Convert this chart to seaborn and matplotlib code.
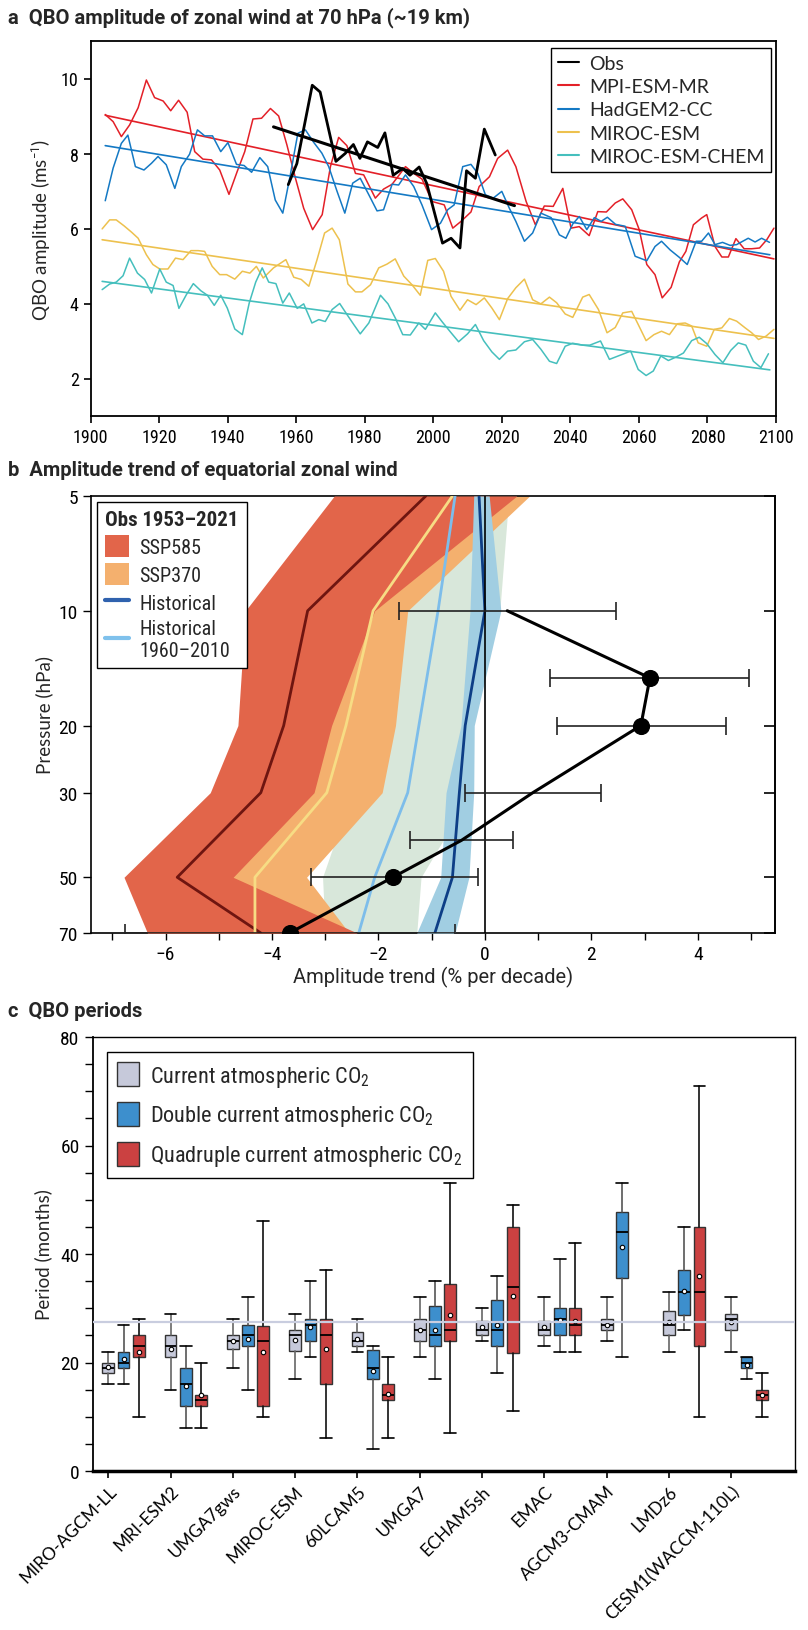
import numpy as np
import matplotlib
matplotlib.use("Agg")
import matplotlib.pyplot as plt
from matplotlib import font_manager as fm
import seaborn as sns
from matplotlib.patches import Patch
from matplotlib.lines import Line2D
from matplotlib.ticker import FixedLocator, MultipleLocator, NullLocator, FuncFormatter

# ======================= DATA =======================
# ---- panel a : QBO amplitude at 70 hPa ----
obs_years = [1957.7, 1960.2, 1964.7, 1967.0, 1971.6, 1974.3, 1976.7, 1978.6, 1980.8, 1983.8,
             1985.9, 1988.3, 1991.1, 1993.2, 1995.9, 1998.1, 2002.7, 2005.2, 2007.8, 2009.7,
             2012.3, 2014.9, 2018.1]
obs_vals = [7.17, 7.73, 9.82, 9.64, 7.79, 8.00, 8.24, 7.87, 8.31, 8.16,
            8.55, 7.42, 7.60, 7.42, 7.64, 7.20, 5.61, 5.74, 5.48, 7.54,
            7.34, 8.65, 7.96]
obs_trend_years = [1953.4, 2023.7]
obs_trend_vals = [8.71, 6.61]

mpi_years = [1904.3, 1906.6, 1909.0, 1911.4, 1913.9, 1916.3, 1918.7, 1921.2, 1923.4, 1925.7,
             1928.2, 1930.4, 1932.8, 1935.3, 1937.7, 1940.4, 1942.8, 1945.0, 1947.4, 1949.9,
             1952.5, 1954.9, 1957.3, 1959.8, 1962.2, 1964.8, 1967.6, 1970.0, 1972.4, 1974.8,
             1977.3, 1979.7, 1983.1, 1985.5, 1988.0, 1991.9, 1994.3, 1996.7, 1999.7, 2003.2,
             2005.7, 2008.1, 2011.0, 2013.4, 2016.4, 2018.8, 2021.7, 2024.1, 2027.1, 2029.8,
             2032.4, 2035.0, 2037.8, 2040.2, 2042.6, 2045.5, 2048.0, 2050.5, 2053.1, 2055.3,
             2057.9, 2060.1, 2062.3, 2064.7, 2066.8, 2069.4, 2071.8, 2073.7, 2075.9, 2078.3,
             2079.8, 2082.2, 2084.2, 2086.1, 2088.3, 2090.7, 2092.9, 2095.2, 2097.3, 2099.4]
mpi_vals = [9.04, 8.85, 8.45, 8.76, 9.22, 9.96, 9.49, 9.40, 9.14, 9.42,
            9.10, 8.05, 7.85, 7.83, 7.56, 6.91, 7.52, 8.05, 8.92, 8.94,
            9.20, 9.00, 8.23, 7.34, 6.54, 5.97, 6.37, 7.65, 8.43, 8.21,
            7.47, 7.43, 6.81, 7.05, 7.18, 7.65, 7.47, 7.32, 6.72, 6.63,
            6.01, 6.19, 6.44, 7.12, 7.38, 7.87, 8.09, 7.65, 6.72, 6.10,
            6.60, 6.59, 7.07, 6.01, 6.05, 5.81, 6.45, 6.44, 6.68, 6.79,
            6.50, 5.97, 5.04, 4.77, 4.15, 4.43, 5.11, 5.39, 6.10, 6.28,
            6.37, 5.52, 5.24, 5.24, 5.73, 5.46, 5.46, 5.48, 5.70, 6.01]
mpi_trend_years = [1904.3, 2099.4]
mpi_trend_vals = [9.02, 5.19]

had_years = [1904.3, 1906.6, 1909.0, 1910.9, 1913.1, 1915.6, 1917.8, 1919.7, 1922.1, 1924.6,
             1926.5, 1928.9, 1931.2, 1933.3, 1935.6, 1938.0, 1940.1, 1942.6, 1944.8, 1947.0,
             1949.4, 1951.7, 1953.9, 1956.1, 1958.3, 1960.5, 1962.7, 1965.1, 1967.5, 1969.5,
             1971.9, 1974.2, 1976.5, 1978.7, 1981.2, 1983.6, 1985.5, 1988.0, 1989.9, 1991.9,
             1994.3, 1996.7, 1999.5, 2002.1, 2004.2, 2006.1, 2008.6, 2011.0, 2013.0, 2015.2,
             2017.5, 2020.0, 2022.2, 2024.1, 2026.6, 2029.0, 2031.4, 2034.4, 2036.8, 2038.7,
             2040.7, 2042.6, 2044.8, 2047.0, 2049.0, 2050.8, 2053.2, 2056.0, 2058.9, 2062.3,
             2064.7, 2066.6, 2069.1, 2071.8, 2074.1, 2076.7, 2078.3, 2080.3, 2082.2, 2084.4,
             2086.6, 2088.5, 2091.9, 2093.9, 2095.8, 2098.1]
had_vals = [6.74, 7.61, 8.27, 8.49, 7.65, 7.56, 7.74, 7.92, 7.70, 7.07,
            7.65, 7.98, 8.63, 8.47, 8.47, 8.05, 8.29, 7.71, 7.68, 7.50,
            7.89, 7.65, 6.76, 6.41, 7.43, 8.54, 8.63, 8.30, 8.01, 7.65,
            7.00, 6.41, 7.21, 7.34, 6.90, 6.47, 6.50, 7.18, 7.16, 7.43,
            7.12, 6.63, 5.97, 6.14, 6.50, 6.63, 7.65, 7.71, 7.47, 6.90,
            6.81, 6.99, 6.54, 6.19, 5.66, 5.88, 6.41, 6.29, 5.83, 5.74,
            6.12, 6.32, 5.97, 6.29, 6.19, 6.30, 6.11, 6.06, 5.26, 5.14,
            5.52, 5.66, 5.43, 5.23, 5.04, 5.66, 5.66, 5.88, 5.57, 5.63,
            5.55, 5.57, 5.74, 5.64, 5.74, 5.63]
had_trend_years = [1904.3, 2098.2]
had_trend_vals = [8.21, 5.30]

mir_years = [1903.4, 1905.6, 1907.5, 1909.8, 1912.0, 1913.9, 1916.3, 1918.2, 1920.2, 1922.6,
             1924.8, 1927.0, 1929.3, 1931.4, 1933.3, 1935.5, 1937.7, 1939.7, 1942.1, 1944.3,
             1946.5, 1948.4, 1950.4, 1953.4, 1957.0, 1959.3, 1961.5, 1963.7, 1966.1, 1968.3,
             1970.5, 1972.6, 1975.1, 1977.3, 1979.2, 1981.7, 1984.1, 1986.5, 1988.9, 1991.4,
             1993.8, 1996.2, 1998.4, 2000.6, 2003.0, 2005.2, 2007.8, 2010.0, 2012.5, 2014.9,
             2017.1, 2019.3, 2021.7, 2024.1, 2026.6, 2029.0, 2031.4, 2033.9, 2036.0, 2038.5,
             2040.7, 2043.6, 2045.5, 2048.2, 2050.7, 2053.1, 2055.3, 2057.9, 2059.8, 2062.1,
             2064.4, 2066.6, 2068.9, 2071.2, 2073.5, 2075.4, 2077.3, 2079.8, 2082.0, 2084.2,
             2086.4, 2088.5, 2091.0, 2092.9, 2094.9, 2097.1, 2099.4]
mir_vals = [5.99, 6.23, 6.23, 6.07, 5.90, 5.74, 5.30, 5.04, 4.92, 4.92,
            5.21, 5.17, 5.41, 5.41, 5.39, 4.99, 4.77, 4.77, 4.65, 4.86,
            4.81, 4.99, 4.68, 4.95, 5.17, 4.70, 4.64, 4.46, 5.17, 5.88,
            6.01, 5.70, 4.52, 4.31, 4.31, 4.50, 4.95, 5.05, 5.19, 4.73,
            4.50, 4.22, 5.15, 5.20, 4.86, 4.19, 3.82, 4.10, 3.97, 4.15,
            3.88, 3.57, 4.13, 4.42, 4.65, 4.10, 3.99, 4.17, 4.02, 3.72,
            3.63, 4.17, 4.24, 3.84, 3.22, 3.36, 3.75, 3.79, 3.44, 3.01,
            3.17, 3.26, 3.17, 3.46, 3.48, 3.40, 2.95, 2.86, 3.31, 3.35,
            3.60, 3.53, 3.35, 3.22, 3.04, 3.13, 3.31]
mir_trend_years = [1903.4, 2099.4]
mir_trend_vals = [5.70, 3.07]

chem_years = [1903.4, 1905.6, 1907.5, 1909.5, 1911.4, 1913.7, 1915.8, 1917.8, 1920.2, 1922.1,
              1924.1, 1925.8, 1928.0, 1930.0, 1932.2, 1934.1, 1936.1, 1938.0, 1939.9, 1942.1,
              1944.3, 1946.3, 1948.2, 1950.1, 1952.0, 1954.1, 1956.1, 1958.0, 1960.3, 1962.2,
              1964.6, 1966.6, 1968.5, 1970.5, 1972.7, 1974.8, 1976.8, 1978.7, 1981.2, 1984.6,
              1986.8, 1989.0, 1991.1, 1993.3, 1995.8, 1997.7, 2000.6, 2002.7, 2005.2, 2007.4,
              2010.0, 2012.3, 2014.7, 2017.1, 2019.3, 2021.7, 2024.1, 2026.6, 2029.0, 2031.4,
              2033.9, 2036.0, 2038.5, 2040.7, 2043.6, 2045.7, 2048.8, 2051.4, 2054.5, 2057.6,
              2059.8, 2062.1, 2064.2, 2066.4, 2068.6, 2070.8, 2073.0, 2075.4, 2077.6, 2079.8,
              2082.2, 2084.5, 2086.8, 2089.0, 2091.2, 2093.4, 2095.6, 2097.8]
chem_vals = [4.37, 4.52, 4.57, 4.74, 5.21, 4.81, 4.64, 4.28, 4.92, 4.57,
             4.48, 3.87, 4.24, 4.53, 4.34, 4.22, 3.95, 4.22, 3.88, 3.32,
             3.17, 4.01, 4.57, 4.95, 4.57, 4.53, 4.01, 4.28, 3.87, 3.99,
             3.48, 3.57, 3.52, 3.84, 4.00, 3.71, 3.44, 3.19, 3.48, 4.22,
             3.99, 3.60, 3.17, 3.16, 3.48, 3.31, 3.75, 3.50, 3.22, 2.98,
             3.19, 3.44, 3.01, 2.71, 2.51, 2.73, 2.76, 2.98, 3.04, 2.78,
             2.46, 2.40, 2.86, 2.94, 2.89, 2.89, 3.00, 2.51, 2.62, 2.73,
             2.24, 2.08, 2.20, 2.60, 2.48, 2.57, 2.68, 3.01, 3.10, 2.93,
             2.64, 2.42, 2.75, 2.95, 2.89, 2.46, 2.29, 2.66]
chem_trend_years = [1903.4, 2098.2]
chem_trend_vals = [4.59, 2.23]

# ---- panel b : amplitude trend profiles ----
p_levels = [5, 10, 20, 30, 50, 70]
ssp585_lo = [-2.83, -4.50, -4.64, -5.16, -6.78, -6.34]
ssp585_hi = [0.60, -2.07, -2.88, -3.21, -4.73, -2.40]
ssp585_mean = [-1.11, -3.33, -3.78, -4.21, -5.78, -4.21]
ssp370_lo = [-1.50, -3.00, -3.60, -4.00, -4.80, -4.60]
ssp370_hi = [0.84, -1.45, -1.68, -1.93, -3.35, -2.55]
ssp370_mean = [-0.61, -2.10, -2.61, -2.97, -4.32, -4.32]
h6010_lo = [-1.00, -1.45, -2.00, -2.50, -3.05, -3.00]
h6010_hi = [0.45, 0.28, -0.25, -0.25, -1.20, -1.28]
h6010_mean = [-0.56, -0.88, -1.24, -1.45, -2.07, -2.37]
hist_lo = [-0.21, -0.28, -0.45, -0.73, -0.83, -1.28]
hist_hi = [0.08, 0.30, -0.20, -0.21, -0.30, -0.56]
hist_mean = [-0.11, 0.00, -0.37, -0.48, -0.61, -0.94]

obs_p = [10, 15, 20, 30, 40, 50, 70]
obs_trend = [0.42, 3.10, 2.93, 0.90, -0.44, -1.73, -3.67]
obs_err_lo = [-1.62, 1.22, 1.36, -0.38, -1.40, -3.26, -6.77]
obs_err_hi = [2.46, 4.96, 4.53, 2.19, 0.52, -0.13, -0.56]
obs_marker = [False, True, True, False, False, True, True]

# ---- panel c : QBO periods ----
models = ["MIRO-AGCM-LL", "MRI-ESM2", "UMGA7gws", "MIROC-ESM", "60LCAM5", "UMGA7",
          "ECHAM5sh", "EMAC", "AGCM3-CMAM", "LMDz6", "CESM1(WACCM-110L)"]
cur_lo = [16, 15, 19, 17, 22, 21, 24, 23, 24, 22, 22]
cur_q1 = [18, 21, 22.4, 22.2, 23, 24, 25, 25, 26, 25, 26]
cur_med = [19, 23, 24, 25, 24, 26, 26, 26, 27, 27, 28]
cur_q3 = [20, 25, 25, 26, 25.7, 28, 27.7, 27.7, 28, 29.5, 29]
cur_hi = [22, 29, 28, 29, 28, 32, 30, 32, 32, 33, 32]
cur_mean = [19.2, 22.4, 24.0, 24.2, 24.3, 26.0, 26.5, 26.5, 27.0, 27.4, 27.5]

dbl_lo = [16, 8, 15, 21, 4, 17, 18, 22, 21, 26, 17]
dbl_q1 = [19, 12, 23, 24, 17, 23, 23, 25, 35.5, 28.8, 19]
dbl_med = [20, 16, 25, 27, 19, 25, 26, 28, 44, 33, 20]
dbl_q3 = [22, 19, 27, 28, 22.3, 30.5, 31.5, 30, 47.8, 37, 21]
dbl_hi = [27, 23, 32, 35, 23, 35, 36, 39, 53, 45, 21]
dbl_mean = [20.7, 15.7, 24.3, 26.6, 18.5, 26.0, 27.0, 27.8, 41.2, 33.2, 19.6]

quad_lo = [10, 8, 10, 6, 6, 7, 11, 22, None, 10, 10]
quad_q1 = [21, 12, 12, 16, 13, 24, 21.7, 25, None, 23, 13]
quad_med = [23, 13, 24, 25, 14, 26, 34, 27, None, 33, 14]
quad_q3 = [25, 14, 26.7, 28, 16, 34.5, 45, 30, None, 45, 15]
quad_hi = [28, 20, 46, 37, 21, 53, 49, 42, None, 71, 18]
quad_mean = [22.0, 14.0, 22.0, 22.5, 14.2, 28.7, 32.3, 27.7, None, 35.9, 14.0]

ref_period = 27.4

# ======================= STYLE =======================
sns.set_theme(style="ticks")
_names = {f.name for f in fm.fontManager.ttflist}
COND = [n for n in ['Liberation Sans Narrow', 'Roboto Condensed', 'Open Sans Condensed',
                    'Roboto'] if n in _names] + ['DejaVu Sans']
REG = [n for n in ['Lato'] if n in _names] + ['DejaVu Sans']
TIT = [n for n in ['Roboto'] if n in _names] + ['DejaVu Sans']
plt.rcParams['font.family'] = COND
plt.rcParams['axes.unicode_minus'] = True
plt.rcParams['axes.edgecolor'] = 'black'
plt.rcParams['xtick.color'] = 'black'
plt.rcParams['ytick.color'] = 'black'
plt.rcParams['mathtext.fontset'] = 'custom'
plt.rcParams['mathtext.rm'] = COND[0]
plt.rcParams['mathtext.it'] = COND[0]

fig = plt.figure(figsize=(8.08, 16.31), dpi=100)
H = 1631.0
W = 808.0

def title(ypix, txt):
    fig.text(8 / W, 1 - ypix / H, txt, fontsize=14.5, fontweight='bold', va='center',
             ha='left', family=TIT)

title(18, "a  QBO amplitude of zonal wind at 70 hPa (~19 km)")
title(471, "b  Amplitude trend of equatorial zonal wind")
title(1012, "c  QBO periods")

# ======================= PANEL A =======================
ax1 = fig.add_axes([90.5 / W, 1 - 417 / H, (776 - 90.5) / W, (417 - 42) / H])
c_mpi, c_had, c_mir, c_chem = '#E32028', '#1479C4', '#EDC14E', '#45BFBD'
series = [
    (mpi_years, mpi_vals, mpi_trend_years, mpi_trend_vals, c_mpi),
    (had_years, had_vals, had_trend_years, had_trend_vals, c_had),
    (mir_years, mir_vals, mir_trend_years, mir_trend_vals, c_mir),
    (chem_years, chem_vals, chem_trend_years, chem_trend_vals, c_chem),
]
for yrs, vals, tyrs, tvals, col in series:
    sns.lineplot(x=yrs, y=vals, color=col, lw=1.1, ax=ax1, sort=False, estimator=None,
                 legend=False)
    sns.lineplot(x=tyrs, y=tvals, color=col, lw=1.2, ax=ax1, sort=False, estimator=None,
                 legend=False)
sns.lineplot(x=obs_years, y=obs_vals, color='black', lw=2.0, ax=ax1, sort=False,
             estimator=None, legend=False, zorder=5)
sns.lineplot(x=obs_trend_years, y=obs_trend_vals, color='black', lw=2.2, ax=ax1,
             sort=False, estimator=None, legend=False, zorder=5)
ax1.set_xlim(1900, 2100)
ax1.set_ylim(1, 11)
ax1.xaxis.set_major_locator(MultipleLocator(20))
ax1.yaxis.set_major_locator(FixedLocator([2, 4, 6, 8, 10]))
ax1.tick_params(direction='out', length=5, width=1.2, labelsize=13)
ax1.set_xlabel("")
ax1.set_ylabel("QBO amplitude (ms$^{-1}$)", fontsize=13.5, family=REG, labelpad=6)
for s in ax1.spines.values():
    s.set_linewidth(1.3)
handles = [Line2D([], [], color='black', lw=1.5), Line2D([], [], color=c_mpi, lw=1.5),
           Line2D([], [], color=c_had, lw=1.5), Line2D([], [], color=c_mir, lw=1.5),
           Line2D([], [], color=c_chem, lw=1.5)]
labels = ["Obs", "MPI-ESM-MR", "HadGEM2-CC", "MIROC-ESM", "MIROC-ESM-CHEM"]
leg = ax1.legend(handles, labels, loc='upper right', bbox_to_anchor=(0.9927, 0.981),
                 borderaxespad=0, frameon=True, fancybox=False, edgecolor='black',
                 framealpha=1, handlelength=1.1, handletextpad=0.5, borderpad=0.35,
                 labelspacing=0.32, prop={'family': REG, 'size': 14})
leg.get_frame().set_linewidth(1.0)

# ======================= PANEL B =======================
ax2 = fig.add_axes([91 / W, 1 - 934 / H, (775 - 91) / W, (934 - 497) / H])
col585, col370 = '#E2654A', '#F4B06E'
col_g, col_b = '#D8E7DA', '#A1CEE2'
ax2.fill_betweenx(p_levels, h6010_lo, h6010_hi, color=col_g, lw=0, zorder=1)
ax2.fill_betweenx(p_levels, ssp370_lo, ssp370_hi, color=col370, lw=0, zorder=2)
ax2.fill_betweenx(p_levels, ssp585_lo, ssp585_hi, color=col585, lw=0, zorder=3)
ax2.fill_betweenx(p_levels, hist_lo, hist_hi, color=col_b, lw=0, zorder=4)
for xs, col in [(ssp585_mean, '#6E1510'), (ssp370_mean, '#F7DC84'),
                (h6010_mean, '#7DBDEA'), (hist_mean, '#0D3E86')]:
    sns.lineplot(x=xs, y=p_levels, color=col, lw=2.0, ax=ax2, sort=False, orient='y',
                 estimator=None, legend=False, zorder=5)
ax2.axvline(0, color='black', lw=1.2, zorder=6)
ax2.errorbar(obs_trend, obs_p,
             xerr=[np.array(obs_trend) - np.array(obs_err_lo),
                   np.array(obs_err_hi) - np.array(obs_trend)],
             fmt='none', ecolor='#222222', elinewidth=1.2, capsize=6.5, capthick=1.2, zorder=7)
sns.lineplot(x=obs_trend, y=obs_p, color='black', lw=2.2, ax=ax2, sort=False, orient='y',
             estimator=None, legend=False, zorder=8)
mk_x = [x for x, m in zip(obs_trend, obs_marker) if m]
mk_y = [y for y, m in zip(obs_p, obs_marker) if m]
sns.scatterplot(x=mk_x, y=mk_y, color='black', s=130, ax=ax2, zorder=9, legend=False,
                edgecolor='black')
ax2.set_yscale('log')
ax2.set_ylim(70, 5)
ax2.set_xlim(-7.4, 5.45)
ax2.yaxis.set_major_locator(FixedLocator(p_levels))
ax2.yaxis.set_major_formatter(FuncFormatter(lambda v, p: f"{int(round(v))}"))
ax2.yaxis.set_minor_locator(NullLocator())
ax2.xaxis.set_major_locator(MultipleLocator(1))
ax2.xaxis.set_major_formatter(FuncFormatter(
    lambda v, p: (f"{int(round(v))}".replace('-', '\u2212') if int(round(v)) % 2 == 0 else "")))
ax2.tick_params(axis='x', direction='out', length=5, width=1.0, labelsize=14)
ax2.tick_params(axis='y', direction='out', length=6, width=1.0, labelsize=14)
sec = ax2.secondary_yaxis('right')
sec.set_yticks(p_levels)
sec.yaxis.set_minor_locator(NullLocator())
sec.tick_params(axis='y', direction='in', length=8, width=1.2, labelright=False)
sec.spines['right'].set_linewidth(1.2)
ax2.set_xlabel("Amplitude trend (% per decade)", fontsize=14.5, family=TIT, labelpad=2)
ax2.set_ylabel("Pressure (hPa)", fontsize=13.5, family=REG, labelpad=4)
for s in ax2.spines.values():
    s.set_linewidth(1.2)
handles_b = [Patch(facecolor=col585, edgecolor='none'), Patch(facecolor=col370, edgecolor='none'),
             Line2D([], [], color='#2F62AE', lw=3), Line2D([], [], color='#7FC1EC', lw=3)]
labels_b = ["SSP585", "SSP370", "Historical", "Historical\n1960\u20132010"]
leg2 = ax2.legend(handles_b, labels_b, loc='upper left', bbox_to_anchor=(0.0088, 0.986),
                  borderaxespad=0, title="Obs 1953\u20132021", frameon=True, fancybox=False,
                  edgecolor='black', framealpha=1, handlelength=1.2, handleheight=1.3,
                  handletextpad=0.5, borderpad=0.4, labelspacing=0.3,
                  prop={'family': COND, 'size': 14.5},
                  title_fontproperties={'family': COND, 'size': 15, 'weight': 'bold'})
leg2._legend_box.align = "left"
leg2.get_frame().set_linewidth(1.0)
leg2.set_zorder(10)

# ======================= PANEL C =======================
ax3 = fig.add_axes([92.7 / W, 1 - 1472 / H, (794.8 - 92.7) / W, (1472 - 1038) / H])
groups = [
    (cur_lo, cur_q1, cur_med, cur_q3, cur_hi, cur_mean, '#C6C9DA', '#666666', 0.0),
    (dbl_lo, dbl_q1, dbl_med, dbl_q3, dbl_hi, dbl_mean, '#3D8FCD', '#555555', 0.245),
    (quad_lo, quad_q1, quad_med, quad_q3, quad_hi, quad_mean, '#CB4141', '#111111', 0.49),
]
bw = 0.19
for lo, q1, med, q3, hi, mn, fc, wc, off in groups:
    stats, pos = [], []
    for i in range(len(models)):
        if lo[i] is None:
            continue
        stats.append(dict(whislo=lo[i], q1=q1[i], med=med[i], q3=q3[i], whishi=hi[i],
                          mean=mn[i], fliers=[]))
        pos.append(i + off)
    ax3.bxp(stats, positions=pos, widths=bw, capwidths=bw, showmeans=True, patch_artist=True,
            showfliers=False,
            boxprops=dict(facecolor=fc, edgecolor='#333333', linewidth=1.0),
            medianprops=dict(color='black', linewidth=1.3),
            whiskerprops=dict(color=wc, linewidth=1.2),
            capprops=dict(color='black', linewidth=1.2),
            meanprops=dict(marker='o', markerfacecolor='white', markeredgecolor='black',
                           markersize=3.2, markeredgewidth=0.8))
ax3.axhline(ref_period, color='#C9CDDF', lw=1.6, zorder=10)
ax3.set_xlim(-0.25, 11.02)
ax3.set_ylim(0, 80)
ax3.set_xticks(range(len(models)))
ax3.set_xticklabels(models, rotation=45, ha='right', va='top', rotation_mode='anchor',
                    family=REG, fontsize=12.5)
ax3.yaxis.set_major_locator(MultipleLocator(20))
ax3.yaxis.set_minor_locator(MultipleLocator(5))
ax3.tick_params(axis='y', which='both', direction='out', length=6, width=1.0, labelsize=14)
ax3.tick_params(axis='x', direction='out', length=5, width=1.2, pad=3.5)
ax3.set_ylabel("Period (months)", fontsize=13.5, family=REG, labelpad=6)
ax3.spines['bottom'].set_linewidth(2.5)
ax3.spines['left'].set_linewidth(1.3)
ax3.spines['top'].set_linewidth(1.0)
ax3.spines['right'].set_linewidth(1.0)
handles_c = [Patch(facecolor='#C6C9DA', edgecolor='#333333'),
             Patch(facecolor='#3D8FCD', edgecolor='#333333'),
             Patch(facecolor='#CB4141', edgecolor='#333333')]
labels_c = ["Current atmospheric CO$_2$", "Double current atmospheric CO$_2$",
            "Quadruple current atmospheric CO$_2$"]
leg3 = ax3.legend(handles_c, labels_c, loc='upper left', bbox_to_anchor=(0.0204, 0.9654),
                  borderaxespad=0, frameon=True, fancybox=False, edgecolor='black',
                  framealpha=1, handlelength=1.0, handleheight=1.3, handletextpad=0.5,
                  borderpad=0.45, labelspacing=0.6, prop={'family': COND, 'size': 16})
leg3.get_frame().set_linewidth(1.0)

fig.savefig("out.png", dpi=100)
